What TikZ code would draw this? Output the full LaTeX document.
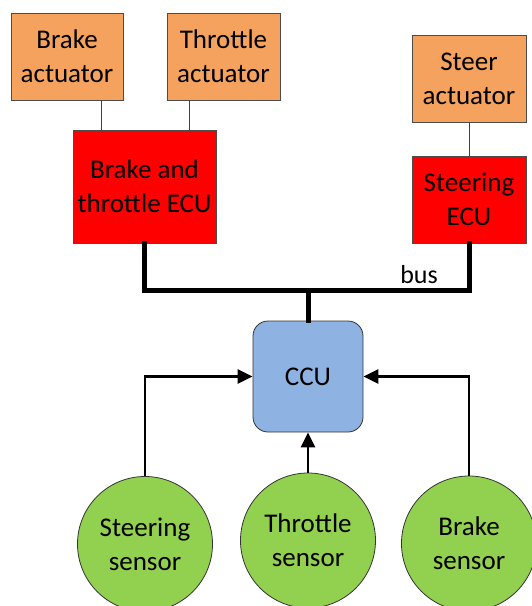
\documentclass[tikz,border=0pt]{standalone}
\usepackage{fontspec}
\setmainfont{Carlito}
\usepackage{xcolor}
\usepackage{tikz}
\usetikzlibrary{arrows.meta,positioning}
\definecolor{actorange}{RGB}{244,162,94}
\definecolor{ecured}{RGB}{255,0,0}
\definecolor{ccublue}{RGB}{142,178,226}
\definecolor{sensgreen}{RGB}{146,208,80}

\begin{document}
\begin{tikzpicture}[x=1pt,y=-1pt,font=\fontsize{27}{34}\selectfont,
      act/.style={draw=black!70,line width=0.8pt,fill=actorange,align=center,
                  inner sep=0pt,minimum height=87pt},
      ecu/.style={draw=black!70,line width=0.8pt,fill=ecured,align=center,
                  inner sep=0pt},
      ccubox/.style={draw=black!80,line width=0.8pt,fill=ccublue,rounded corners=15pt,
                  minimum width=110pt,minimum height=111pt,inner sep=0pt},
      sensor/.style={circle,draw=black!80,line width=0.8pt,fill=sensgreen,align=center,
                  minimum size=135pt,inner sep=0pt},
      wire/.style={draw=black!75,line width=1pt},
      bus/.style={line width=5pt,line cap=rect},
      arr/.style={line width=2.7pt,-{Triangle[length=15pt,width=14pt]}}]
    \useasboundingbox (0,0) rectangle (531,606);
    % actuators
    \node[act,minimum width=112pt] (bact) at (67,56.5) {Brake\\actuator};
    \node[act,minimum width=113pt] (tact) at (223.5,56.5) {Throttle\\actuator};
    \node[act,minimum width=114pt] (sact) at (469,78.5) {Steer\\actuator};
    % ECUs
    \node[ecu,minimum width=143pt,minimum height=113pt] (btecu) at (144.5,186.5)
      {Brake and\\throttle ECU};
    \node[ecu,minimum width=114pt,minimum height=87pt] (secu) at (469,199.5)
      {Steering\\ECU};
    \coordinate (ba) at (101,100);
    \coordinate (ta) at (189,100);
    \draw[wire] (ba) -- (ba |- btecu.north);
    \draw[wire] (ta) -- (ta |- btecu.north);
    \draw[wire] (sact.south) -- (secu.north);
    % bus
    \node[ccubox] (ccu) at (308,376.5) {CCU};
    \coordinate (busy) at (0,290);
    \draw[bus] (btecu.south) -- (btecu.south |- busy) -| (secu.south);
    \draw[bus] (ccu.north |- busy) -- (ccu.north);
    \node[font=\fontsize{26}{30}\selectfont] (buslbl) at (419,275) {bus};
    % sensors
    \node[sensor] (ssen) at (145,544) {Steering\\sensor};
    \node[sensor] (tsen) at (308,540.5) {Throttle\\sensor};
    \node[sensor] (bsen) at (469,543.5) {Brake\\sensor};
    \draw[arr] (ssen.north) |- (ccu.west);
    \draw[arr] (tsen.north) -- (ccu.south);
    \draw[arr] (bsen.north) |- (ccu.east);
\end{tikzpicture}
\end{document}
